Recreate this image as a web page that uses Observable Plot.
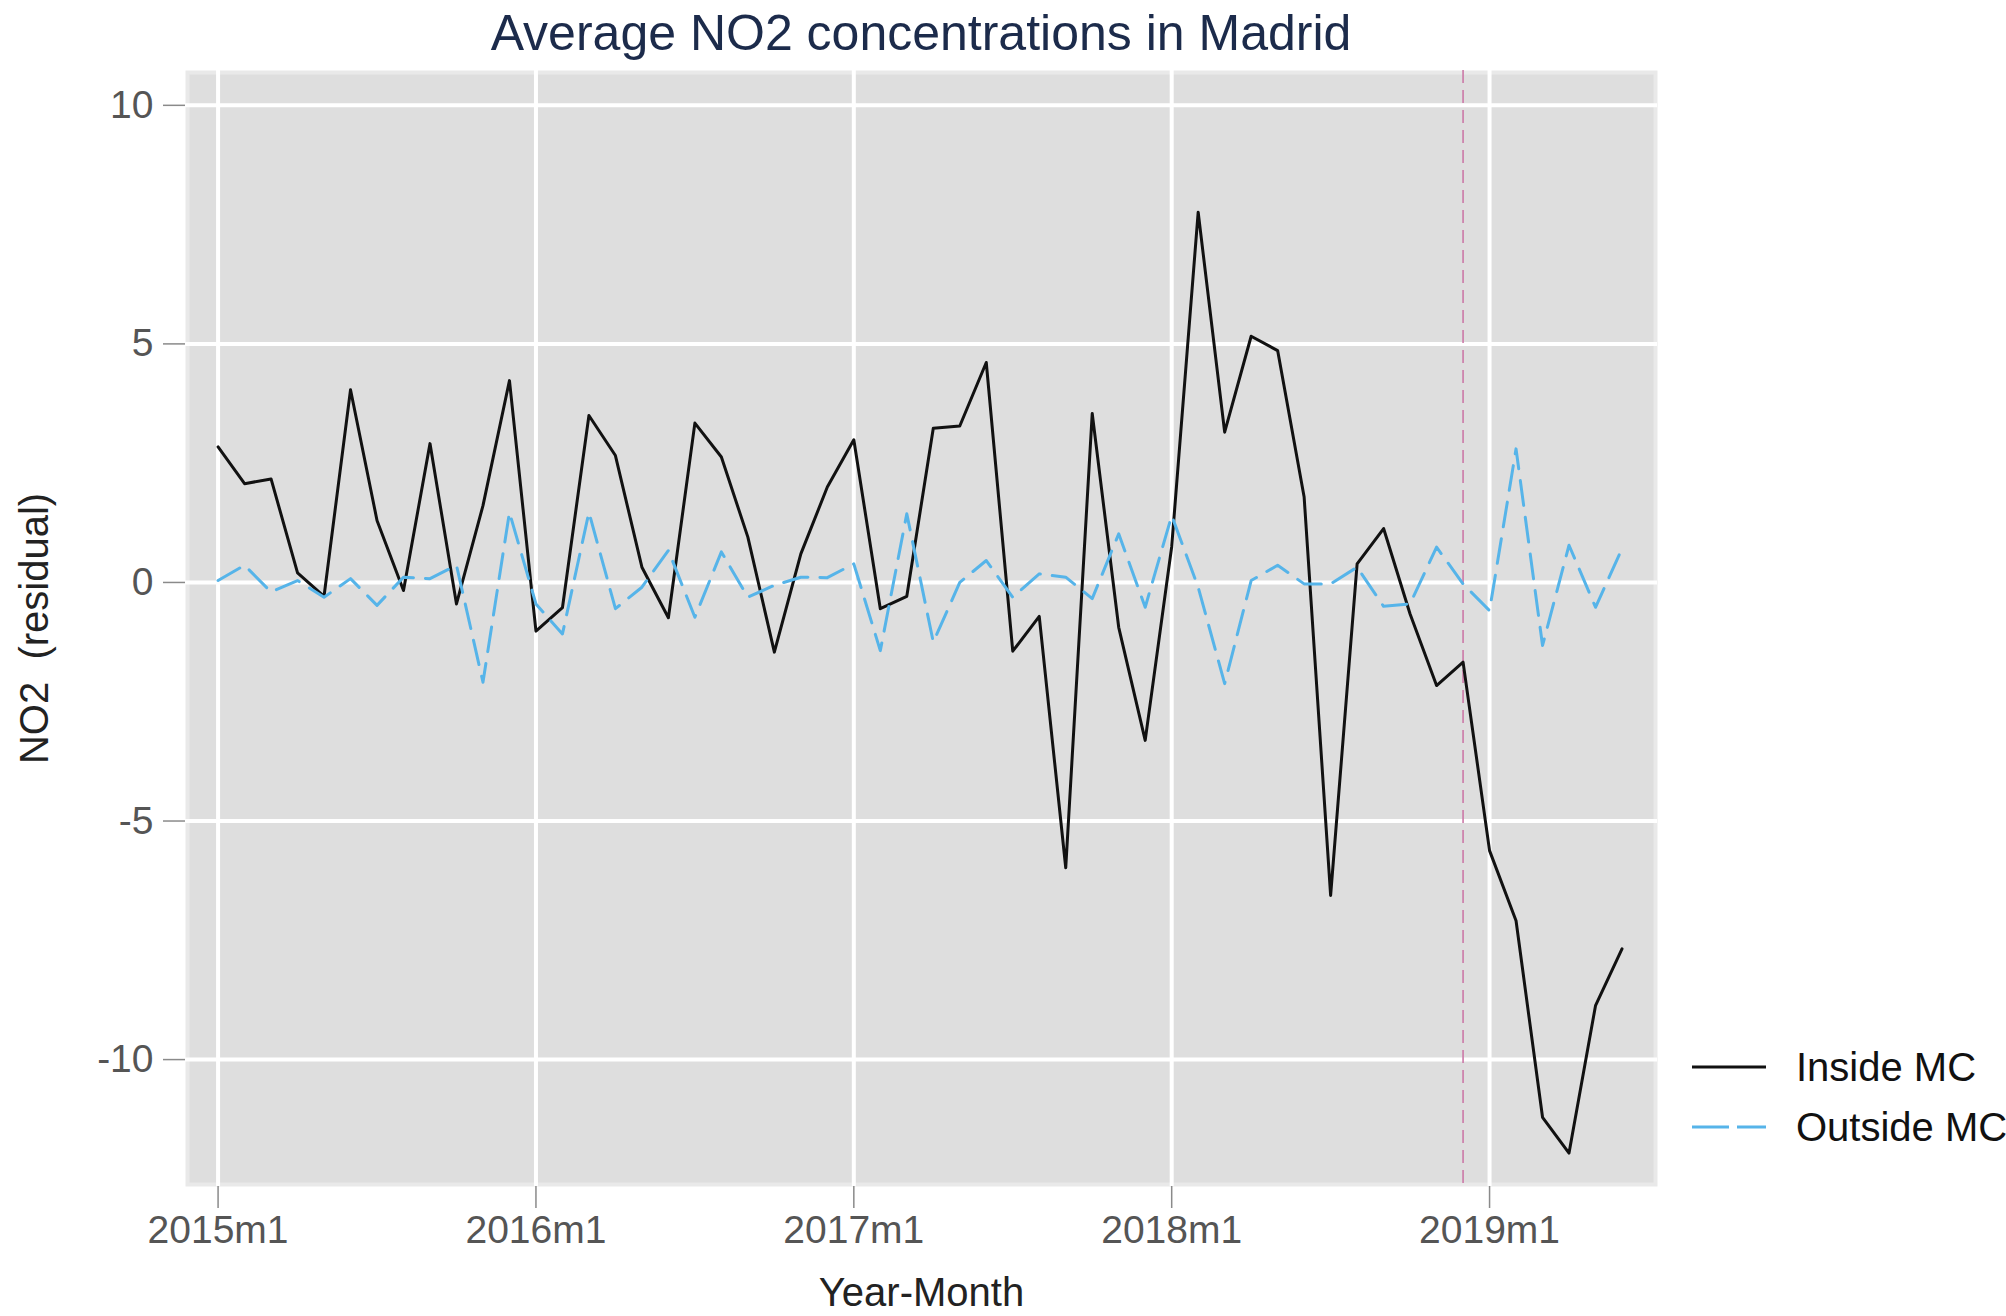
<!DOCTYPE html>
<html>
<head>
<meta charset="utf-8">
<script src="https://cdn.jsdelivr.net/npm/d3@7"></script>
<script src="https://cdn.jsdelivr.net/npm/@observablehq/plot@0.6"></script>
<style>
  html, body { margin: 0; padding: 0; background: #fff; overflow: hidden; }
  #wrap { position: relative; width: 2006px; height: 1316px; font-family: "Liberation Sans", Arial, sans-serif; }
  #title { height: 62px; padding-top: 8px; width: 1842px; text-align: center; font-size: 50px; line-height: 50px; color: #1c2b4b; white-space: nowrap; }
  #legend { position: absolute; left: 1692px; top: 1037px; }
  svg { display: block; }
</style>
</head>
<body>
<div id="wrap">
  <div id="title">Average NO2 concentrations in Madrid</div>
  <div id="chart"></div>
  <div id="legend"></div>
</div>
<script>
const months = [
  "2015m1","2015m2","2015m3","2015m4","2015m5","2015m6","2015m7","2015m8","2015m9","2015m10","2015m11","2015m12",
  "2016m1","2016m2","2016m3","2016m4","2016m5","2016m6","2016m7","2016m8","2016m9","2016m10","2016m11","2016m12",
  "2017m1","2017m2","2017m3","2017m4","2017m5","2017m6","2017m7","2017m8","2017m9","2017m10","2017m11","2017m12",
  "2018m1","2018m2","2018m3","2018m4","2018m5","2018m6","2018m7","2018m8","2018m9","2018m10","2018m11","2018m12",
  "2019m1","2019m2","2019m3","2019m4","2019m5","2019m6"
];
const insideMC = [
  2.84, 2.07, 2.17, 0.20, -0.29, 4.04, 1.30, -0.17, 2.91, -0.45, 1.61, 4.23,
  -1.02, -0.53, 3.50, 2.66, 0.32, -0.74, 3.34, 2.63, 0.95, -1.46, 0.60, 2.00,
  2.99, -0.55, -0.29, 3.23, 3.28, 4.61, -1.44, -0.71, -5.98, 3.54, -0.94, -3.31,
  0.75, 7.76, 3.15, 5.16, 4.86, 1.79, -6.56, 0.39, 1.13, -0.66, -2.16, -1.67,
  -5.62, -7.09, -11.21, -11.96, -8.87, -7.68
];
const outsideMC = [
  0.04, 0.36, -0.20, 0.04, -0.31, 0.08, -0.48, 0.11, 0.08, 0.36, -2.09, 1.47,
  -0.45, -1.08, 1.47, -0.55, -0.10, 0.67, -0.73, 0.64, -0.31, -0.06, 0.11, 0.10,
  0.39, -1.43, 1.44, -1.25, 0.00, 0.46, -0.31, 0.18, 0.11, -0.34, 1.02, -0.52,
  1.40, -0.10, -2.12, 0.04, 0.36, -0.03, -0.03, 0.32, -0.50, -0.45, 0.74, -0.03,
  -0.59, 2.80, -1.32, 0.78, -0.52, 0.71
];
const xTickLabels = ["2015m1","2016m1","2017m1","2018m1","2019m1"];
const yTicks = [-10, -5, 0, 5, 10];
const markerMonth = "2018m12";
const seriesNames = ["Inside MC", "Outside MC"];

const idx = m => months.indexOf(m);
const rows = months.map((m, i) => ({t: i, month: m, inside: insideMC[i], outside: outsideMC[i]}));
const xTicks = xTickLabels.map(idx);

const font = '"Liberation Sans", Arial, sans-serif';
const chart = Plot.plot({
  width: 2006,
  height: 1246,
  marginLeft: 185,
  marginRight: 349,
  marginTop: 0,
  marginBottom: 130,
  style: {fontFamily: font, background: "white", overflow: "visible"},
  x: {type: "linear", domain: [-1.23, 54.34], axis: null},
  y: {type: "linear", domain: [-12.66, 10.73], axis: null},
  marks: [
    Plot.frame({fill: "#dedede", stroke: "#e9e9e9", strokeWidth: 4, inset: 2}),
    Plot.gridY(yTicks, {stroke: "white", strokeOpacity: 1, strokeWidth: 4}),
    Plot.gridX(xTicks, {stroke: "white", strokeOpacity: 1, strokeWidth: 4}),
    Plot.ruleX([idx(markerMonth)], {stroke: "#CC79A7", strokeWidth: 1.6, strokeDasharray: "13,7"}),
    Plot.line(rows, {x: "t", y: "inside", stroke: "#111111", strokeWidth: 3}),
    Plot.line(rows, {x: "t", y: "outside", stroke: "#56B4E9", strokeWidth: 3, strokeDasharray: "25,12"}),
    Plot.axisY(yTicks, {anchor: "left", tickSize: 22, tickPadding: 10, fontSize: 39, stroke: "#8a8a8a", fill: "#555555", strokeWidth: 1.5, label: null,
      tickFormat: (d) => String(d)}),
    Plot.axisX(xTicks, {anchor: "bottom", tickSize: 22, tickPadding: 7, fontSize: 39, stroke: "#8a8a8a", fill: "#555555", strokeWidth: 1.5, label: null,
      tickFormat: (d) => months[d]}),
    Plot.text(["Year-Month"], {frameAnchor: "bottom", dy: 119, fontSize: 40, fill: "#222222"}),
    Plot.text(["NO2\u00a0 (residual)"], {frameAnchor: "left", dx: -150, rotate: -90, textAnchor: "middle", fontSize: 40, fill: "#222222"})
  ]
});
document.getElementById("chart").appendChild(chart);

// Legend
const ns = "http://www.w3.org/2000/svg";
const leg = document.createElementNS(ns, "svg");
leg.setAttribute("width", "320");
leg.setAttribute("height", "120");
leg.style.overflow = "visible";
const styles = [{stroke: "#111111", dash: null}, {stroke: "#56B4E9", dash: "37,8"}];
seriesNames.forEach((name, i) => {
  const y = 30 + i * 60;
  const ln = document.createElementNS(ns, "line");
  ln.setAttribute("x1", 0); ln.setAttribute("x2", 74);
  ln.setAttribute("y1", y); ln.setAttribute("y2", y);
  ln.setAttribute("stroke", styles[i].stroke);
  ln.setAttribute("stroke-width", 3);
  if (styles[i].dash) ln.setAttribute("stroke-dasharray", styles[i].dash);
  leg.appendChild(ln);
  const tx = document.createElementNS(ns, "text");
  tx.setAttribute("x", 104); tx.setAttribute("y", y);
  tx.setAttribute("dy", "0.35em");
  tx.setAttribute("font-size", 40);
  tx.setAttribute("font-family", font);
  tx.setAttribute("fill", "#111111");
  tx.textContent = name;
  leg.appendChild(tx);
});
document.getElementById("legend").appendChild(leg);
</script>
</body>
</html>
